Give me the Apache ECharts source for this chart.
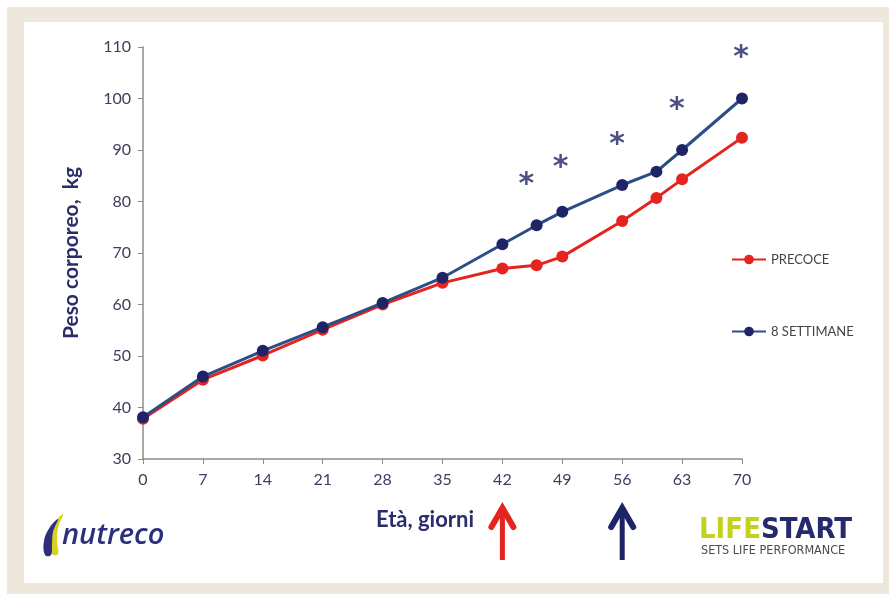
<!DOCTYPE html>
<html>
<head>
<meta charset="utf-8">
<script src="https://cdn.jsdelivr.net/npm/echarts@6/dist/echarts.min.js"></script>
<style>
  html, body { margin: 0; padding: 0; background: #ffffff; }
  #chart { width: 889px; height: 594px; }
</style>
</head>
<body>
<div id="chart"></div>
<script>
// data
var days = [0, 7, 14, 21, 28, 35, 42, 46, 49, 56, 60, 63, 70];
var precoce = [37.8, 45.4, 50.1, 55.1, 60.0, 64.2, 67.0, 67.6, 69.3, 76.2, 80.7, 84.3, 92.4];
var settimane = [38.1, 46.0, 51.0, 55.6, 60.3, 65.2, 71.7, 75.4, 78.0, 83.2, 85.8, 90.0, 100.0];
// significance marks (*) : [day, weight]
var starPos = [[44.8, 84.5], [48.8, 87.8], [55.4, 92.3], [62.4, 99.0], [69.9, 109.2]];
var xTicks = [0, 7, 14, 21, 28, 35, 42, 49, 56, 63, 70];
var arrowDays = [42, 56];

var red = '#e5231f';
var navy = '#1f2467';
var navyLine = '#2a4e86';
var labelColor = '#3d3d5e';

function zip(xs, ys) {
    return xs.map(function (x, i) { return [x, ys[i]]; });
}

var dom = document.getElementById('chart');
var myChart = echarts.init(dom);

var option = {
    animation: false,
    backgroundColor: '#ffffff',
    grid: {
        left: 143,
        right: 147,
        top: 47,
        bottom: 135
    },
    legend: {
        orient: 'vertical',
        left: 726,
        top: 248,
        itemGap: 59,
        itemWidth: 34,
        itemHeight: 12,
        data: ['PRECOCE', '8 SETTIMANE'],
        textStyle: {
            fontFamily: 'Lato',
            fontSize: 13,
            color: '#444444'
        }
    },
    xAxis: {
        type: 'value',
        min: 0,
        max: 70,
        interval: 7,
        splitLine: { show: false },
        axisLine: { lineStyle: { color: '#8c8c8c', width: 1.5 } },
        axisTick: { show: true, length: 5, lineStyle: { color: '#8c8c8c' } },
        axisLabel: {
            margin: 13,
            fontFamily: 'Lato',
            fontSize: 16,
            color: labelColor,
            customValues: xTicks
        }
    },
    yAxis: {
        type: 'value',
        min: 30,
        max: 110,
        interval: 10,
        name: 'Peso corporeo,  kg',
        nameLocation: 'middle',
        nameGap: 61,
        nameTextStyle: {
            fontFamily: 'Lato',
            fontSize: 21,
            fontWeight: 'bold',
            color: '#2b2d6b'
        },
        splitLine: { show: false },
        axisLine: { show: true, lineStyle: { color: '#8c8c8c', width: 1.5 } },
        axisTick: { show: true, length: 5, lineStyle: { color: '#8c8c8c' } },
        axisLabel: {
            margin: 12,
            fontFamily: 'Lato',
            fontSize: 16,
            color: labelColor
        }
    },
    series: [{
        name: 'PRECOCE',
        type: 'line',
        symbol: 'circle',
        symbolSize: 12,
        z: 2,
        itemStyle: { color: red },
        lineStyle: { color: red, width: 3 },
        data: zip(days, precoce)
    }, {
        name: '8 SETTIMANE',
        type: 'line',
        symbol: 'circle',
        symbolSize: 12,
        z: 3,
        itemStyle: { color: navy },
        lineStyle: { color: navyLine, width: 3 },
        data: zip(days, settimane)
    }, {
        name: 'stars',
        type: 'scatter',
        symbolSize: 1,
        itemStyle: { color: 'rgba(0,0,0,0)' },
        label: {
            show: true,
            position: 'inside',
            formatter: '*',
            fontFamily: 'DejaVu Sans',
            fontWeight: 'bold',
            fontSize: 30,
            color: '#1f2467',
            offset: [0, 7]
        },
        data: starPos
    }]
};

myChart.setOption(option);

// frame, logos, axis name and arrows
var gfx = [
    { type: 'rect', z: -10, silent: true, shape: { x: 7, y: 7, width: 882, height: 587 }, style: { fill: '#eee7db' } },
    { type: 'rect', z: -9, silent: true, shape: { x: 24, y: 22, width: 859, height: 561 }, style: { fill: '#ffffff' } },
    {
        type: 'text', x: 425, y: 520,
        style: {
            text: 'Età, giorni', fontFamily: 'Lato', fontSize: 22, fontWeight: 'bold',
            fill: '#2b2d6b', align: 'center', verticalAlign: 'middle'
        }
    },
    // nutreco logo
    {
        type: 'polygon',
        shape: { points: [[52, 554], [49, 538], [54, 524], [63, 514], [58, 528], [57, 541], [58, 554]], smooth: 0.4 },
        style: { fill: '#d9d21c' }
    },
    {
        type: 'polygon',
        shape: { points: [[45, 555], [44, 541], [50, 527], [58, 519], [53, 532], [52, 544], [51, 555]], smooth: 0.4 },
        style: { fill: '#2b2f7c' }
    },
    {
        type: 'text', x: 62, y: 536,
        style: {
            text: 'nutreco', fontFamily: 'Open Sans', fontSize: 29, fontStyle: 'italic',
            fontWeight: 600, fill: '#2b2f7c', align: 'left', verticalAlign: 'middle'
        }
    },
    // LIFESTART logo
    {
        type: 'text', x: 699, y: 530,
        style: {
            text: '{a|LIFE}{b|START}', align: 'left', verticalAlign: 'middle',
            rich: {
                a: { fontFamily: 'DejaVu Sans Condensed', fontWeight: 'bold', fontSize: 29, fill: '#c4d21e' },
                b: { fontFamily: 'DejaVu Sans Condensed', fontWeight: 'bold', fontSize: 29, fill: '#252a6c' }
            }
        }
    },
    {
        type: 'text', x: 701, y: 551,
        style: {
            text: 'SETS LIFE PERFORMANCE', fontFamily: 'DejaVu Sans Condensed', fontSize: 12.5,
            fill: '#4a4a4a', align: 'left', verticalAlign: 'middle'
        }
    }
];

var arrowColors = [red, navy];
arrowDays.forEach(function (d, i) {
    var px = myChart.convertToPixel({ gridIndex: 0 }, [d, 30]);
    var x = px[0];
    var c = arrowColors[i];
    gfx.push({
        type: 'line', shape: { x1: x, y1: 512, x2: x, y2: 560 },
        style: { stroke: c, lineWidth: 5 }
    });
    gfx.push({
        type: 'polyline', shape: { points: [[x - 11, 527], [x, 508], [x + 11, 527]] },
        style: { stroke: c, lineWidth: 6, fill: null, lineJoin: 'miter', lineCap: 'round' }
    });
});

myChart.setOption({ graphic: gfx });
</script>
</body>
</html>
